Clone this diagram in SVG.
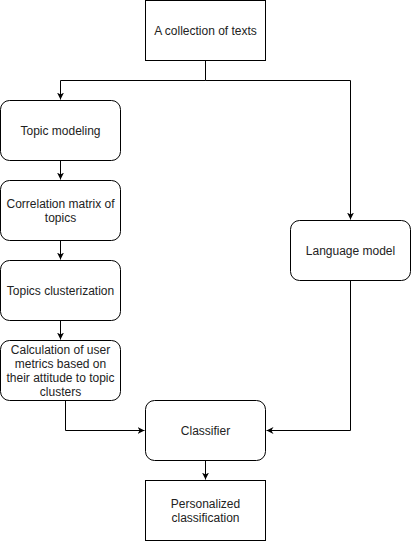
<svg xmlns="http://www.w3.org/2000/svg" width="411" height="541" viewBox="0 0 411 541">
<style>
.box{fill:#fff;stroke:#000;stroke-width:1}
.t{font-family:"Liberation Sans",Arial,sans-serif;font-size:12px;fill:#222;text-anchor:middle}
.c{fill:none;stroke:#000;stroke-width:1}
</style>
<defs>
<marker id="a" viewBox="0 0 10 10" refX="10" refY="5" markerWidth="7" markerHeight="7" markerUnits="userSpaceOnUse" orient="auto">
<path d="M0,0 L10,5 L0,10 L3,5 Z" fill="#000"/>
</marker>
</defs>
<rect width="411" height="541" fill="#fff"/>
<g id="connectors">
<path class="c" d="M205.5,60.5 V80.5 H60.5 V99.5" marker-end="url(#a)"/>
<path class="c" d="M205.5,80.5 H350.5 V219.5" marker-end="url(#a)"/>
<path class="c" d="M60.5,160.5 V179.5" marker-end="url(#a)"/>
<path class="c" d="M60.5,240.5 V259.5" marker-end="url(#a)"/>
<path class="c" d="M60.5,320.5 V339.5" marker-end="url(#a)"/>
<path class="c" d="M65.5,400.5 V430.5 H144.5" marker-end="url(#a)"/>
<path class="c" d="M350.5,280.5 V430.5 H266.5" marker-end="url(#a)"/>
<path class="c" d="M205.5,460.5 V479.5" marker-end="url(#a)"/>
</g>
<g id="texts">
<rect class="box" x="145.5" y="0.5" width="120" height="60"/>
<text class="t" x="205.5" y="34.5">A collection of texts</text>
</g>
<g id="topic-modeling">
<rect class="box" x="0.5" y="100.5" width="120" height="60" rx="9"/>
<text class="t" x="60.5" y="134.5">Topic modeling</text>
</g>
<g id="correlation">
<rect class="box" x="0.5" y="180.5" width="120" height="60" rx="9"/>
<text class="t" x="60.5" y="207.5">Correlation matrix of</text>
<text class="t" x="60.5" y="221.5">topics</text>
</g>
<g id="clusterization">
<rect class="box" x="0.5" y="260.5" width="120" height="60" rx="9"/>
<text class="t" x="60.5" y="294.5">Topics clusterization</text>
</g>
<g id="calculation">
<rect class="box" x="0.5" y="340.5" width="120" height="60" rx="9"/>
<text class="t" x="60.5" y="353.5">Calculation of user</text>
<text class="t" x="60.5" y="367.5">metrics based on</text>
<text class="t" x="60.5" y="381.5">their attitude to topic</text>
<text class="t" x="60.5" y="395.5">clusters</text>
</g>
<g id="language-model">
<rect class="box" x="290.5" y="220.5" width="120" height="60" rx="9"/>
<text class="t" x="350.5" y="254.5">Language model</text>
</g>
<g id="classifier">
<rect class="box" x="145.5" y="400.5" width="120" height="60" rx="9"/>
<text class="t" x="205.5" y="434.5">Classifier</text>
</g>
<g id="personalized">
<rect class="box" x="145.5" y="480.5" width="120" height="60"/>
<text class="t" x="205.5" y="507.5">Personalized</text>
<text class="t" x="205.5" y="521.5">classification</text>
</g>
</svg>
